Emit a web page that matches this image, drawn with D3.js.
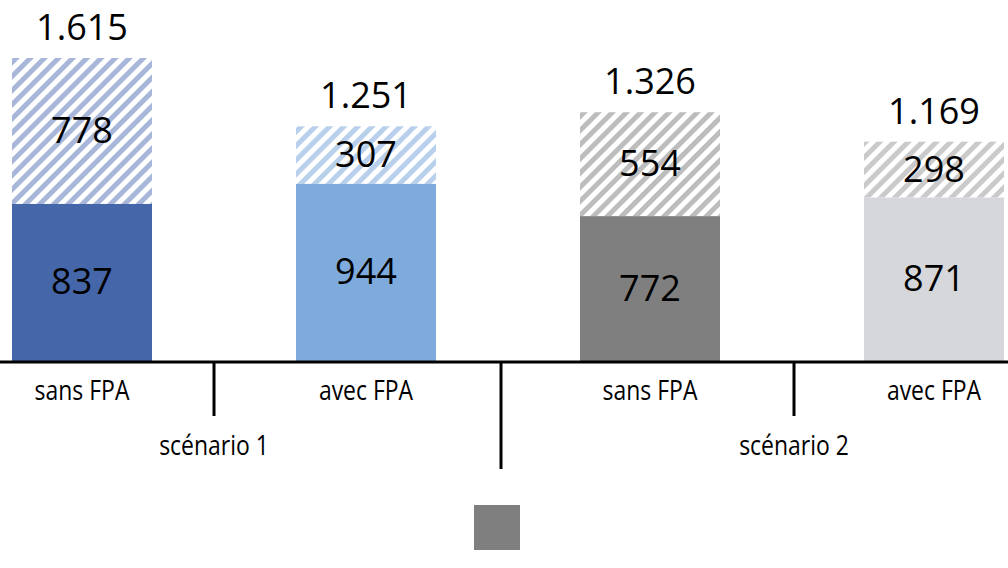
<!DOCTYPE html>
<html><head><meta charset="utf-8">
<script src="https://cdn.jsdelivr.net/npm/d3@7"></script>
<style>body{margin:0;background:#fff}text{font-family:"Open Sans",sans-serif}</style>
</head><body><svg id="c" width="1008" height="568"></svg>
<script>
const bars = ["s1sans", "s1avec", "s2sans", "s2avec"];
const barLabels = ["sans FPA", "avec FPA", "sans FPA", "avec FPA"];
const scenarios = ["scénario 1", "scénario 2"];
const baseValues = [837, 944, 772, 871];
const extraValues = [778, 307, 554, 298];
const totalLabels = ["1.615", "1.251", "1.326", "1.169"];
const solidColors = ["#4566a8", "#7fabdc", "#7f7f7f", "#d5d7db"];
const hatchColors = ["#a7b6d9", "#b9d0ec", "#bdbdbd", "#cacaca"];

const svg = d3.select("#c");
const x = d3.scaleBand().domain(bars).range([12, 1004]).paddingInner(0.507).paddingOuter(0);
const y = d3.scaleLinear().domain([0, 1615]).range([361, 58]);

const defs = svg.append("defs");
hatchColors.forEach((c, i) => {
  const p = defs.append("pattern").attr("id", "h" + i).attr("patternUnits", "userSpaceOnUse")
    .attr("width", 10).attr("height", 10).attr("patternTransform", "rotate(45)");
  p.append("rect").attr("width", 10).attr("height", 10).attr("fill", "#fff");
  p.append("rect").attr("width", 5).attr("height", 10).attr("fill", c);
});

const g = svg.append("g");
bars.forEach((b, i) => {
  const x0 = x(b), w = x.bandwidth();
  g.append("rect").attr("x", x0).attr("width", w)
    .attr("y", y(baseValues[i] + extraValues[i])).attr("height", y(baseValues[i]) - y(baseValues[i] + extraValues[i]))
    .attr("fill", `url(#h${i})`);
  g.append("rect").attr("x", x0).attr("width", w)
    .attr("y", y(baseValues[i])).attr("height", y(0) - y(baseValues[i])).attr("fill", solidColors[i]);
  const cx = x0 + w / 2;
  g.append("text").attr("x", cx).attr("y", (y(0) + y(baseValues[i])) / 2 + 12).attr("text-anchor", "middle")
    .attr("font-size", 36).text(baseValues[i]);
  g.append("text").attr("x", cx).attr("y", (y(baseValues[i]) + y(baseValues[i] + extraValues[i])) / 2 + 12)
    .attr("text-anchor", "middle").attr("font-size", 36).text(extraValues[i]);
  g.append("text").attr("x", cx).attr("y", y(baseValues[i] + extraValues[i]) - 18).attr("text-anchor", "middle")
    .attr("font-size", 36).text(totalLabels[i]);
  g.append("text").attr("x", cx).attr("y", 400).attr("text-anchor", "middle")
    .attr("font-family", "DejaVu Sans Condensed").attr("font-size", 27).attr("transform", `translate(${cx},0) scale(0.85,1) translate(${-cx},0)`)
    .text(barLabels[i]);
});

svg.append("line").attr("x1", 0).attr("x2", 1008).attr("y1", 362).attr("y2", 362).attr("stroke", "#000").attr("stroke-width", 3);
const sep = [[x("s1sans") + x.bandwidth() + 62, 416], [x("s1avec") + x.bandwidth() + 65, 469], [x("s2sans") + x.bandwidth() + 74, 416]];
sep.forEach(s => svg.append("line").attr("x1", s[0]).attr("x2", s[0]).attr("y1", 362).attr("y2", s[1]).attr("stroke", "#000").attr("stroke-width", 3));

scenarios.forEach((s, i) => {
  const cx = i === 0 ? sep[0][0] : sep[2][0];
  svg.append("text").attr("x", cx).attr("y", 455).attr("text-anchor", "middle")
    .attr("font-family", "DejaVu Sans Condensed").attr("font-size", 27)
    .attr("transform", `translate(${cx},0) scale(0.85,1) translate(${-cx},0)`).text(s);
});

svg.append("rect").attr("x", 474).attr("y", 505).attr("width", 46).attr("height", 45).attr("fill", "#7f7f7f");
</script></body></html>
